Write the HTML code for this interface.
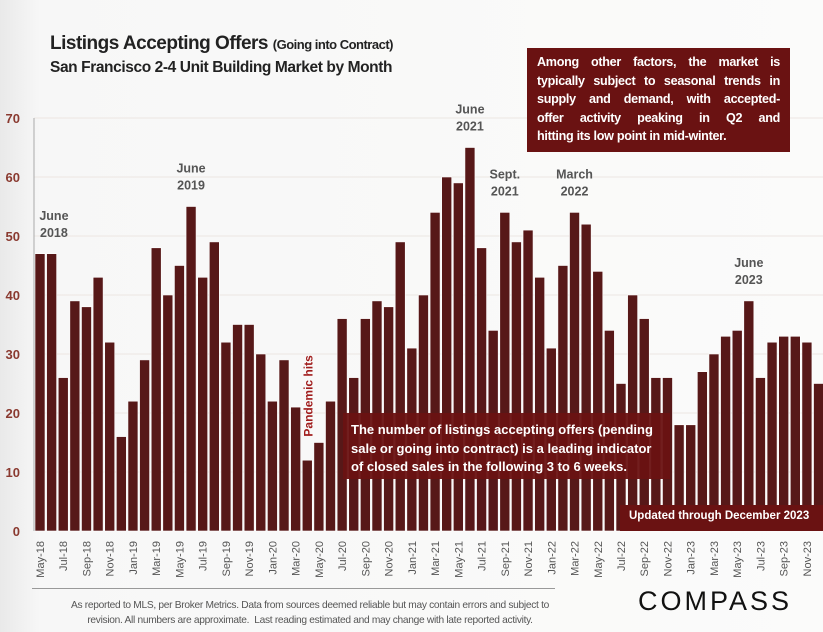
<!DOCTYPE html>
<html><head><meta charset="utf-8">
<style>
html,body{margin:0;padding:0;}
body{width:823px;height:632px;overflow:hidden;background:linear-gradient(90deg,#e9e9e9 0px,#f7f7f7 40px,#fbfbfa 100%);font-family:"Liberation Sans",sans-serif;position:relative;}
.box{position:absolute;background:#6a1212;color:#fff;font-weight:bold;box-sizing:border-box;}
.j{display:block;text-align:justify;text-align-last:justify;white-space:nowrap;}
</style></head>
<body>
<div style="position:absolute;left:50px;top:33px;font-size:19px;font-weight:bold;color:#222;letter-spacing:-0.5px;">Listings Accepting Offers <span style="font-size:13px;">(Going into Contract)</span></div>
<div style="position:absolute;left:50px;top:59px;font-size:15.5px;font-weight:bold;color:#222;letter-spacing:-0.4px;">San Francisco 2-4 Unit Building Market by Month</div>
<svg id="chart" width="823" height="632" style="position:absolute;left:0;top:0;"></svg>
<div class="box" style="left:527px;top:48px;width:263px;height:104px;padding:5px 10px;font-size:12.6px;line-height:18.5px;letter-spacing:-0.3px;"><span class="j">Among other factors, the market is</span><span class="j">typically subject to seasonal trends in</span><span class="j">supply and demand, with accepted-</span><span class="j">offer activity peaking in Q2 and</span><span style="display:block;white-space:nowrap;">hitting its low point in mid-winter.</span></div>
<div class="box" style="left:343px;top:413px;width:327px;height:66px;padding:8px 8px;font-size:13px;line-height:18.5px;background:rgba(106,18,18,0.95);">The number of listings accepting offers (pending sale or going into contract) is a leading indicator of closed sales in the following 3 to 6 weeks.</div>
<div class="box" style="left:620px;top:505px;width:203px;height:26px;padding:5px 0 0 9px;font-size:11.5px;">Updated through December 2023</div>
<div style="position:absolute;left:32px;top:588px;width:523px;height:1px;background:#999;"></div>
<div style="position:absolute;left:10px;top:598px;width:600px;text-align:center;font-size:10.2px;line-height:15px;color:#555;letter-spacing:-0.3px;white-space:nowrap;">As reported to MLS, per Broker Metrics. Data from sources deemed reliable but may contain errors and subject to<br>revision. All numbers are approximate.&nbsp; Last reading estimated and may change with late reported activity.</div>
<div style="position:absolute;left:638px;top:586px;font-size:27px;letter-spacing:3px;color:#111;">COMPASS</div>
<script>
const months=["May-18","Jun-18","Jul-18","Aug-18","Sep-18","Oct-18","Nov-18","Dec-18","Jan-19","Feb-19","Mar-19","Apr-19","May-19","Jun-19","Jul-19","Aug-19","Sep-19","Oct-19","Nov-19","Dec-19","Jan-20","Feb-20","Mar-20","Apr-20","May-20","Jun-20","Jul-20","Aug-20","Sep-20","Oct-20","Nov-20","Dec-20","Jan-21","Feb-21","Mar-21","Apr-21","May-21","Jun-21","Jul-21","Aug-21","Sep-21","Oct-21","Nov-21","Dec-21","Jan-22","Feb-22","Mar-22","Apr-22","May-22","Jun-22","Jul-22","Aug-22","Sep-22","Oct-22","Nov-22","Dec-22","Jan-23","Feb-23","Mar-23","Apr-23","May-23","Jun-23","Jul-23","Aug-23","Sep-23","Oct-23","Nov-23","Dec-23"];
const values=[47,47,26,39,38,43,32,16,22,29,48,40,45,55,43,49,32,35,35,30,22,29,21,12,15,22,36,26,36,39,38,49,31,40,54,60,59,65,48,34,54,49,51,43,31,45,54,52,44,34,25,40,36,26,26,18,18,27,30,33,34,39,26,32,33,33,32,25];
const yTicks=[0,10,20,30,40,50,60,70];
const annotations=[["June","2018",1.2,49],["June","2019",13,57],["June","2021",37,67],["Sept.","2021",40,56],["March","2022",46,56],["June","2023",61,41]];
const NS="http://www.w3.org/2000/svg";
const svg=document.getElementById('chart');
const y0=531,pxPerUnit=5.9,x0=40,pitch=11.62,bw=10;
function yS(v){return y0-v*pxPerUnit;}
function xS(i){return x0+i*pitch;}
function mk(t,a){const e=document.createElementNS(NS,t);for(const k in a)e.setAttribute(k,a[k]);svg.appendChild(e);return e;}
yTicks.forEach(t=>{
  if(t>0){const g=mk('line',{x1:34,x2:823,y1:yS(t),y2:yS(t),stroke:'#ece6e2','stroke-width':1});
  
  }
  const l=mk('text',{x:20,y:yS(t)+5,'text-anchor':'end','font-size':13,'font-weight':'bold',fill:'#8a3a30','font-family':'Liberation Sans, sans-serif'});
  l.textContent=t;
  
  
});
const ax=mk('line',{x1:34,x2:34,y1:118,y2:y0,stroke:'#aaa','stroke-width':1});


values.forEach((v,i)=>{
  const r=mk('rect',{x:xS(i)-bw/2,y:yS(v),width:bw,height:v*pxPerUnit,fill:'#571818',stroke:'#fff','stroke-width':0.6});
  
  
});
months.forEach((m,i)=>{
  if(i%2)return;
  const x=xS(i)+4,y=541;
  const t=mk('text',{x:x,y:y,'text-anchor':'end','font-size':11,fill:'#555','font-family':'Liberation Sans, sans-serif',transform:'rotate(-90 '+x+' '+y+')'});
  t.textContent=m;
  
  
});
annotations.forEach(a=>{
  const x=xS(a[2]),y=yS(a[3]);
  [a[0],a[1]].forEach((s,k)=>{
    const t=mk('text',{x:x,y:y-22+k*17,'text-anchor':'middle','font-size':12.5,'font-weight':'bold',fill:'#555','font-family':'Liberation Sans, sans-serif'});
    t.textContent=s;
    
    
  });
});
const ph=mk('text',{x:xS(23)+5,y:yS(16),'font-size':12,'font-weight':'bold',fill:'#a01c1c','font-family':'Liberation Sans, sans-serif',transform:'rotate(-90 '+(xS(23)+5)+' '+yS(16)+')'});
ph.textContent='Pandemic hits';


</script>
</body></html>
